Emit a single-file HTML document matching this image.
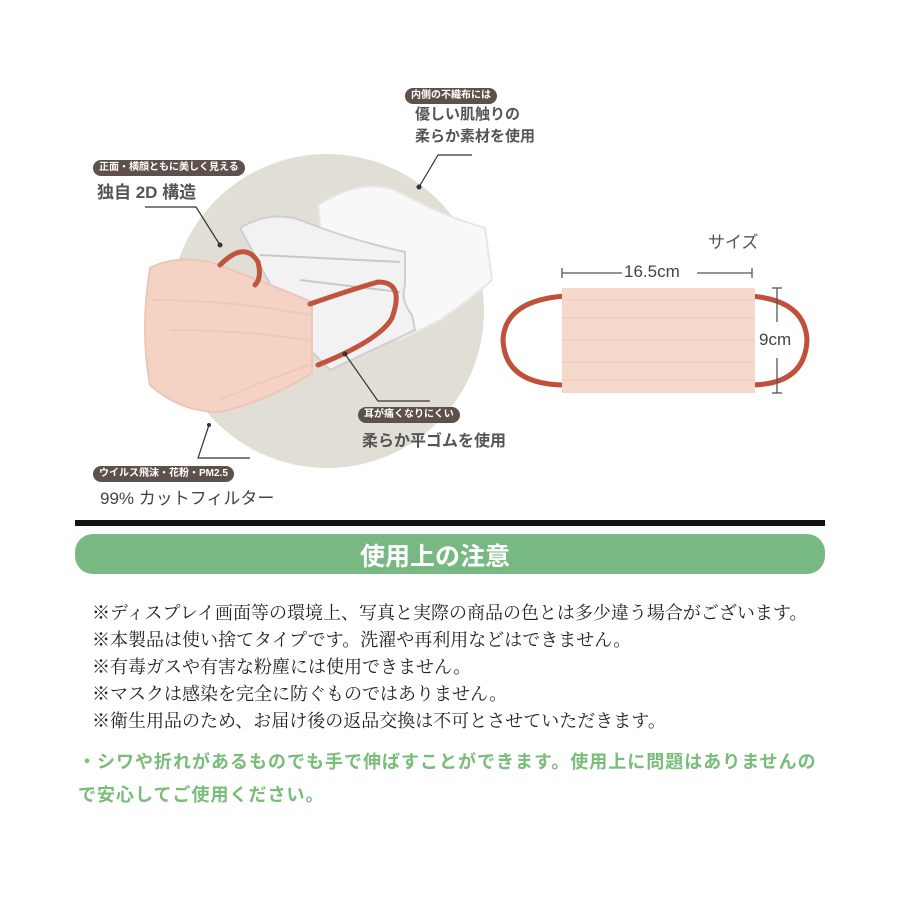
<!DOCTYPE html>
<html><head><meta charset="utf-8"><style>
body{margin:0;background:#fff;}
.w{position:relative;width:900px;height:900px;overflow:hidden;font-family:"Liberation Sans","Noto Sans CJK JP",sans-serif;}
.t{position:absolute;white-space:nowrap;}
.tag{position:absolute;background:#5e514b;color:#fff;font-size:10px;font-weight:bold;border-radius:8px;padding:0 6px;height:16px;line-height:16px;white-space:nowrap;}
.big{position:absolute;color:#555;font-weight:bold;white-space:nowrap;}
.n{position:absolute;left:92px;font-family:"Liberation Serif","Noto Serif CJK SC",serif;font-size:18px;color:#222;white-space:nowrap;}
.g{position:absolute;left:78px;color:#78bd78;font-weight:bold;font-size:18px;letter-spacing:1px;white-space:nowrap;}
</style></head><body><div class="w">
<svg width="900" height="900" style="position:absolute;left:0;top:0">
<circle cx="327" cy="311" r="157" fill="#e1dfd5"/>
<path d="M318 205 Q360 178 395 190 Q440 215 485 228 L492 280 Q470 300 440 320 L400 340 L330 320 Z" fill="#f8f8f8" stroke="#e6e6e6" stroke-width="2"/>
<path d="M240 228 Q270 210 300 220 Q350 240 405 252 L405 285 Q400 300 412 315 L415 330 L330 370 L300 340 Z" fill="#f2f2f2" stroke="#cfcfcf" stroke-width="2"/>
<line x1="260" y1="255" x2="400" y2="262" stroke="#c8c8c8" stroke-width="2"/>
<line x1="300" y1="280" x2="400" y2="292" stroke="#c8c8c8" stroke-width="2"/>
<path d="M150 268 Q175 255 210 262 Q260 280 312 302 L312 373 Q270 400 220 412 Q180 412 150 385 Q140 330 150 268 Z" fill="#f4d2c4" stroke="#ecc6b6" stroke-width="2"/>
<path d="M152 300 Q230 300 310 315" stroke="#efc8b8" stroke-width="2" fill="none"/>
<path d="M170 330 Q240 330 310 340" stroke="#efc8b8" stroke-width="2" fill="none"/>
<path d="M220 400 Q265 380 310 365" stroke="#efc8b8" stroke-width="2" fill="none"/>
<path d="M220 265 Q245 240 258 262 Q262 278 255 285" stroke="#c1543c" stroke-width="5" fill="none" stroke-linecap="round"/>
<path d="M310 304 Q350 290 378 282 Q405 282 392 318 Q380 340 318 365" stroke="#c1543c" stroke-width="5" fill="none" stroke-linecap="round"/>
<g stroke="#333" stroke-width="1.2" fill="none">
<polyline points="145,207 196,207 220,245"/>
<polyline points="472,155 438,155 419,187"/>
<polyline points="345,354 378,401 430,401"/>
<polyline points="209,425 198,458 250,458"/>
</g>
<g fill="#333"><circle cx="220" cy="245" r="2.5"/><circle cx="419" cy="187" r="2.5"/><circle cx="345" cy="354" r="2.5"/><circle cx="209" cy="425" r="2"/></g>
<path d="M566 296 Q505 300 503 340 Q505 385 566 385" stroke="#c1503a" stroke-width="5" fill="none" stroke-linecap="round"/>
<path d="M750 296 Q805 300 807 340 Q805 385 750 385" stroke="#c1503a" stroke-width="5" fill="none" stroke-linecap="round"/>
<rect x="562" y="288" width="193" height="105" fill="#f5d9cb"/>
<g stroke="#f0cdbd" stroke-width="1.5"><line x1="562" y1="300" x2="755" y2="300"/><line x1="562" y1="318" x2="755" y2="318"/><line x1="562" y1="340" x2="755" y2="340"/><line x1="562" y1="362" x2="755" y2="362"/><line x1="562" y1="380" x2="755" y2="380"/></g>
<g stroke="#555" stroke-width="1.3">
<line x1="562" y1="273" x2="622" y2="273"/><line x1="697" y1="273" x2="752" y2="273"/><line x1="562" y1="268" x2="562" y2="278"/><line x1="752" y1="268" x2="752" y2="278"/>
<line x1="777" y1="288" x2="777" y2="322"/><line x1="777" y1="358" x2="777" y2="393"/><line x1="772" y1="288" x2="782" y2="288"/><line x1="772" y1="393" x2="782" y2="393"/>
</g>
<rect x="75" y="520" width="750" height="6" fill="#111"/>
<rect x="75" y="534" width="750" height="40" rx="18" fill="#78b883"/>
</svg>
<div class="tag" style="left:405px;top:88px">内側の不織布には</div>
<div class="big" style="left:415px;top:104px;font-size:15px;line-height:22px">優しい肌触りの<br>柔らか素材を使用</div>
<div class="tag" style="left:93px;top:160px">正面・横顔ともに美しく見える</div>
<div class="big" style="left:97px;top:178px;font-size:17px">独自 2D 構造</div>
<div class="tag" style="left:358px;top:407px">耳が痛くなりにくい</div>
<div class="big" style="left:362px;top:427px;font-size:16px">柔らか平ゴムを使用</div>
<div class="tag" style="left:93px;top:466px">ウイルス飛沫・花粉・PM2.5</div>
<div class="big" style="left:100px;top:484px;font-size:17px;font-weight:normal;color:#444">99% カットフィルター</div>
<div class="t" style="left:708px;top:228px;font-size:17px;color:#555">サイズ</div>
<div class="t" style="left:624px;top:262px;font-size:17px;color:#444">16.5cm</div>
<div class="t" style="left:759px;top:330px;font-size:17px;color:#444">9cm</div>
<div class="t" style="left:0;width:870px;text-align:center;top:537px;font-size:25px;font-weight:bold;color:#fff">使用上の注意</div>
<div class="n" style="top:599px">※ディスプレイ画面等の環境上、写真と実際の商品の色とは多少違う場合がございます。</div>
<div class="n" style="top:626px">※本製品は使い捨てタイプです。洗濯や再利用などはできません。</div>
<div class="n" style="top:653px">※有毒ガスや有害な粉塵には使用できません。</div>
<div class="n" style="top:680px">※マスクは感染を完全に防ぐものではありません。</div>
<div class="n" style="top:707px">※衛生用品のため、お届け後の返品交換は不可とさせていただきます。</div>
<div class="g" style="top:748px">・シワや折れがあるものでも手で伸ばすことができます。使用上に問題はありませんの</div>
<div class="g" style="top:781px">で安心してご使用ください。</div>
</div></body></html>
